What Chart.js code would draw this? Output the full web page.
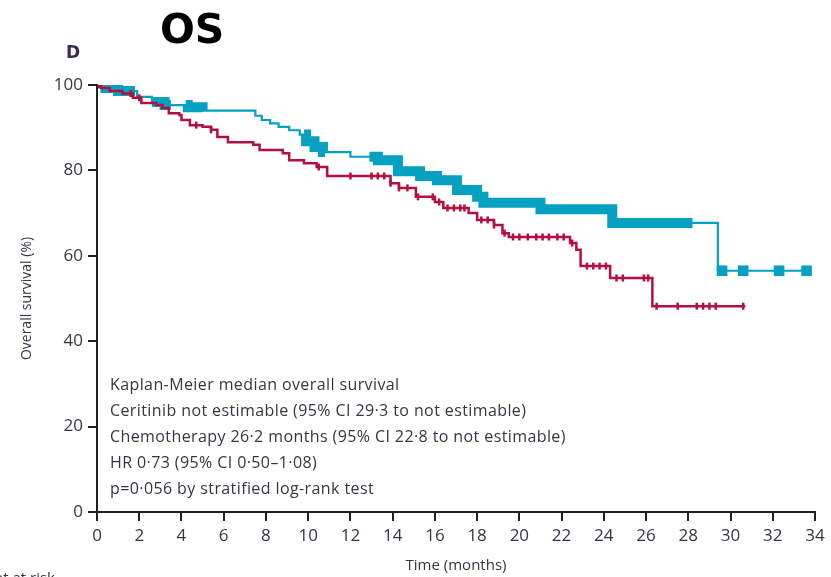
<!DOCTYPE html>
<html lang="en">
<head>
    <meta charset="UTF-8">
    <title>OS</title>
    <script src="https://cdn.jsdelivr.net/npm/chart.js"></script>
    <style>
        body {
            margin: 0;
            background-color: #fff;
        }
        #wrap {
            position: relative;
            width: 831px;
            height: 577px;
            overflow: hidden;
        }
        .txt {
            position: absolute;
            white-space: nowrap;
            color: #3a3344;
            font-family: "Open Sans", "Liberation Sans", Arial, sans-serif;
        }
        #title {
            left: 160px;
            top: 5px;
            font-family: "DejaVu Sans", sans-serif;
            font-weight: bold;
            font-size: 41px;
            color: #000;
        }
        #panel {
            left: 66px;
            top: 42px;
            font-family: "DejaVu Sans", sans-serif;
            font-weight: bold;
            font-size: 17px;
            color: #3b2a4a;
        }
        #note {
            left: 110px;
            top: 371px;
            font-size: 16px;
            letter-spacing: 0.4px;
            line-height: 26px;
        }
        #risk {
            left: -6px;
            top: 567px;
            font-size: 15px;
        }
    </style>
</head>
<body>
    <div id="wrap">
        <canvas id="osChart" width="831" height="577"></canvas>
        <div class="txt" id="title">OS</div>
        <div class="txt" id="panel">D</div>
        <div class="txt" id="note">
            Kaplan-Meier median overall survival<br>
            Ceritinib not estimable (95% CI 29·3 to not estimable)<br>
            Chemotherapy 26·2 months (95% CI 22·8 to not estimable)<br>
            HR 0·73 (95% CI 0·50–1·08)<br>
            p=0·056 by stratified log-rank test
        </div>
        <div class="txt" id="risk">nt at risk</div>
    </div>

    <script>
        // ceritinib KM curve (months, % surviving)
        const ceritinibTime = [0, 0.4, 1.0, 1.9, 2.6, 3.2, 4.3, 5.0, 7.5, 7.8, 8.2, 8.6, 9.1, 9.6, 9.9, 10.3, 10.7, 12.0, 13.3, 14.25, 15.3, 16.1, 17.05, 18.0, 18.3, 21.0, 24.4, 29.4, 33.7];
        const ceritinibSurv = [100, 99.3, 98.6, 97.2, 96.0, 95.3, 94.8, 94.0, 92.8, 91.8, 91.0, 90.2, 89.4, 88.4, 86.8, 85.5, 84.3, 83.2, 82.4, 79.8, 78.7, 77.7, 75.4, 73.8, 72.4, 70.9, 67.7, 56.5, 56.5];
        // dense censoring on ceritinib arm (drawn as solid bands)
        const ceritinibCensorBands = [[0.3, 1.8], [2.6, 3.5], [4.2, 5.0], [9.8, 10.8], [12.9, 28.2]];
        const ceritinibCensorTime = [29.6, 30.6, 32.3, 33.6];

        // chemotherapy KM curve
        const chemoTime = [0, 0.2, 0.6, 1.2, 1.7, 2.1, 2.8, 3.1, 3.4, 3.9, 4.0, 4.4, 5.0, 5.4, 5.7, 6.2, 7.4, 7.7, 8.8, 9.1, 9.8, 10.4, 10.9, 13.9, 14.3, 15.1, 16.0, 16.4, 17.6, 18.0, 18.8, 19.2, 19.5, 22.4, 22.7, 22.9, 24.3, 26.3, 30.7];
        const chemoSurv = [100, 99.3, 98.6, 98.0, 97.0, 95.8, 95.3, 94.6, 93.4, 93.0, 91.8, 90.6, 90.2, 89.5, 87.8, 86.6, 86.0, 84.8, 84.0, 82.4, 81.7, 80.8, 78.7, 77.0, 75.9, 73.8, 72.6, 71.2, 70.0, 68.4, 67.2, 65.3, 64.4, 63.0, 61.4, 57.6, 54.8, 48.2, 48.2];
        const chemoCensorTime = [0.1, 1.6, 2.0, 4.7, 5.4, 10.5, 12.0, 13.0, 13.3, 13.6, 13.9, 14.3, 14.7, 15.2, 15.9, 16.2, 16.6, 16.9, 17.2, 17.4, 18.2, 18.5, 18.8, 19.3, 19.7, 20.0, 20.4, 20.8, 21.1, 21.4, 21.8, 22.1, 22.5, 23.2, 23.5, 23.8, 24.1, 24.6, 24.9, 25.9, 26.1, 26.5, 27.5, 28.4, 28.7, 29.0, 29.3, 30.6];

        const cyan = '#06a0c2';
        const crimson = '#b3103f';

        function curvePoints(times, surv) {
            return times.map((t, i) => ({x: t, y: surv[i]}));
        }

        // survival value of the step curve at time t
        function survAt(times, surv, t) {
            let s = surv[0];
            for (let i = 0; i < times.length; i++) {
                if (times[i] <= t) s = surv[i];
            }
            return s;
        }

        function censorPoints(times, surv, marks) {
            return marks.map(t => ({x: t, y: survAt(times, surv, t)}));
        }

        function bandPoints(times, surv, bands) {
            const pts = [];
            bands.forEach(b => {
                pts.push({x: b[0], y: survAt(times, surv, b[0])});
                times.forEach((t, i) => {
                    if (t > b[0] && t < b[1]) pts.push({x: t, y: surv[i]});
                });
                pts.push({x: b[1], y: survAt(times, surv, b[1])});
                pts.push({x: b[1] + 0.01, y: null});
            });
            return pts;
        }

        const fontFamily = '"Open Sans", "Liberation Sans", sans-serif';
        const tickFont = {family: fontFamily, size: 17};

        const ctx = document.getElementById('osChart').getContext('2d');
        const osChart = new Chart(ctx, {
            type: 'line',
            data: {
                datasets: [
                    {
                        label: 'Chemotherapy',
                        data: curvePoints(chemoTime, chemoSurv),
                        borderColor: crimson,
                        borderWidth: 2.5,
                        stepped: 'before',
                        pointRadius: 0,
                        fill: false
                    },
                    {
                        label: 'Chemotherapy censored',
                        data: censorPoints(chemoTime, chemoSurv, chemoCensorTime),
                        showLine: false,
                        borderColor: crimson,
                        backgroundColor: crimson,
                        pointStyle: 'line',
                        rotation: 90,
                        pointRadius: 3.5,
                        pointBorderWidth: 2.5
                    },
                    {
                        label: 'Ceritinib',
                        data: curvePoints(ceritinibTime, ceritinibSurv),
                        borderColor: cyan,
                        borderWidth: 2.2,
                        stepped: 'before',
                        pointRadius: 0,
                        fill: false
                    },
                    {
                        label: 'Ceritinib censored band',
                        data: bandPoints(ceritinibTime, ceritinibSurv, ceritinibCensorBands),
                        borderColor: cyan,
                        borderWidth: 10,
                        borderCapStyle: 'butt',
                        borderJoinStyle: 'miter',
                        stepped: 'before',
                        spanGaps: false,
                        pointRadius: 0,
                        fill: false
                    },
                    {
                        label: 'Ceritinib censored',
                        data: censorPoints(ceritinibTime, ceritinibSurv, ceritinibCensorTime),
                        showLine: false,
                        borderColor: cyan,
                        backgroundColor: cyan,
                        pointStyle: 'rect',
                        pointRadius: 7.5,
                        pointBorderWidth: 0
                    }
                ]
            },
            options: {
                responsive: false,
                animation: false,
                devicePixelRatio: 1,
                layout: {
                    padding: {left: 0, right: 16, top: 85, bottom: 0}
                },
                plugins: {
                    legend: {display: false},
                    tooltip: {enabled: false}
                },
                scales: {
                    x: {
                        type: 'linear',
                        min: 0,
                        max: 34,
                        afterFit: s => { s.height = 65; },
                        ticks: {
                            stepSize: 2,
                            padding: 5,
                            color: '#3a3344',
                            font: tickFont
                        },
                        grid: {
                            drawOnChartArea: false,
                            drawTicks: true,
                            tickLength: 9,
                            color: '#222',
                            lineWidth: 2
                        },
                        border: {display: true, color: '#222', width: 2},
                        title: {
                            display: true,
                            text: 'Time (months)',
                            color: '#3a3344',
                            font: {family: fontFamily, size: 15},
                            padding: {top: 2, bottom: 2}
                        }
                    },
                    y: {
                        min: 0,
                        max: 100,
                        afterFit: s => { s.width = 97; },
                        ticks: {
                            stepSize: 20,
                            padding: 5,
                            color: '#3a3344',
                            font: tickFont
                        },
                        grid: {
                            drawOnChartArea: false,
                            drawTicks: true,
                            tickLength: 9,
                            color: '#222',
                            lineWidth: 2
                        },
                        border: {display: true, color: '#222', width: 2},
                        title: {
                            display: true,
                            text: 'Overall survival (%)',
                            color: '#3a3344',
                            font: {family: fontFamily, size: 14},
                            padding: {top: 19, bottom: 19}
                        }
                    }
                }
            }
        });
    </script>
</body>
</html>
